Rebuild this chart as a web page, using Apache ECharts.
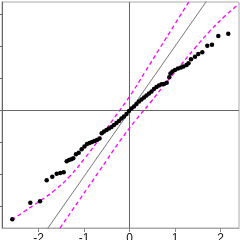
<!DOCTYPE html>
<html><head><meta charset="utf-8">
<script src="https://cdn.jsdelivr.net/npm/echarts@6/dist/echarts.min.js"></script>
<style>html,body{margin:0;padding:0;background:#fff}#c{width:240px;height:240px}</style>
</head><body><div id="c"></div>
<script>
const xTicks = [-2, -1, 0, 1, 2];
const yTicks = [-1.5, -1, -0.5, 0, 0.5, 1, 1.5];

const theoQ = [-2.576,-2.180,-1.967,-1.820,-1.697,-1.600,-1.521,-1.446,-1.380,-1.330,-1.279,-1.235,-1.176,-1.116,-1.051,-0.989,-0.934,-0.879,-0.824,-0.769,-0.714,-0.659,-0.611,-0.560,-0.505,-0.451,-0.396,-0.341,-0.286,-0.231,-0.176,-0.121,-0.066,-0.011,0.044,0.099,0.154,0.209,0.264,0.319,0.374,0.429,0.484,0.538,0.593,0.648,0.703,0.758,0.818,0.875,0.901,0.945,1.000,1.066,1.132,1.187,1.253,1.297,1.352,1.440,1.512,1.600,1.710,1.813,1.952,2.171];
const sampleQ = [-1.708,-1.448,-1.427,-1.098,-1.042,-0.995,-0.984,-0.973,-0.802,-0.781,-0.770,-0.755,-0.692,-0.667,-0.614,-0.570,-0.531,-0.516,-0.500,-0.484,-0.469,-0.445,-0.364,-0.336,-0.313,-0.289,-0.266,-0.234,-0.203,-0.172,-0.133,-0.102,-0.0625,-0.016,0.023,0.055,0.094,0.133,0.164,0.195,0.227,0.258,0.289,0.328,0.359,0.383,0.402,0.406,0.427,0.511,0.570,0.602,0.625,0.648,0.664,0.680,0.703,0.730,0.792,0.833,0.875,0.902,1.005,1.020,1.156,1.192];

const refLineX = [-2.8, 2.4];
const refLineY = [-2.87, 2.42];

const upperX = [-2.582,-2.297,-1.967,-1.637,-1.308,-0.978,-0.648,-0.319,0.011,0.341,0.670,1.000,1.330,1.659];
const upperY = [-1.719,-1.578,-1.422,-1.250,-1.031,-0.750,-0.4375,-0.109,0.219,0.594,0.969,1.344,1.719,2.094];
const lowerX = [-2.582,-2.077,-1.527,-1.088,-0.648,-0.209,0.121,0.451,0.780,1.110,1.440,1.769,2.099,2.407];
const lowerY = [-3.05,-2.42,-1.844,-1.391,-0.9375,-0.484,-0.172,0.109,0.406,0.6875,0.969,1.234,1.469,1.656];

const zip = (a, b) => a.map((v, i) => [v, b[i]]);
const chart = echarts.init(document.getElementById('c'), null, {renderer: 'canvas'});
const dash = {color: '#ff00ff', width: 1.3, type: [4, 3]};
chart.setOption({
  animation: false,
  grid: {left: 2, right: 1, top: 2, bottom: 12, show: true, borderColor: '#aaa', borderWidth: 1, outerBoundsMode: 'none', containLabel: false},
  xAxis: {
    type: 'value', min: -2.802, max: 2.407,
    axisLine: {show: true, onZero: false, lineStyle: {color: '#aaa', width: 1}},
    axisTick: {show: true, customValues: xTicks, length: 4, lineStyle: {color: '#888'}},
    axisLabel: {show: true, customValues: xTicks, margin: 5, fontSize: 12, color: '#111', fontFamily: 'Liberation Sans, Arial, sans-serif'},
    splitLine: {show: false}
  },
  yAxis: {
    type: 'value', min: -1.84375, max: 1.6875,
    axisLine: {show: true, onZero: false, lineStyle: {color: '#666', width: 1}},
    axisTick: {show: true, customValues: yTicks, length: 3, lineStyle: {color: '#666'}},
    axisLabel: {show: false},
    splitLine: {show: false}
  },
  series: [
    {type: 'line', data: zip(refLineX, refLineY), symbol: 'none', lineStyle: {color: '#777', width: 1}, z: 2,
     markLine: {symbol: 'none', silent: true, label: {show: false}, lineStyle: {color: '#666', width: 1, type: 'solid'},
       data: [{xAxis: 0}, {yAxis: 0}]}},
    {type: 'line', data: zip(upperX, upperY), symbol: 'none', smooth: true, lineStyle: dash, z: 3},
    {type: 'line', data: zip(lowerX, lowerY), symbol: 'none', smooth: true, lineStyle: dash, z: 3},
    {type: 'scatter', data: zip(theoQ, sampleQ), symbolSize: 4.5, itemStyle: {color: '#000', opacity: 1}, z: 5}
  ]
});
</script></body></html>
